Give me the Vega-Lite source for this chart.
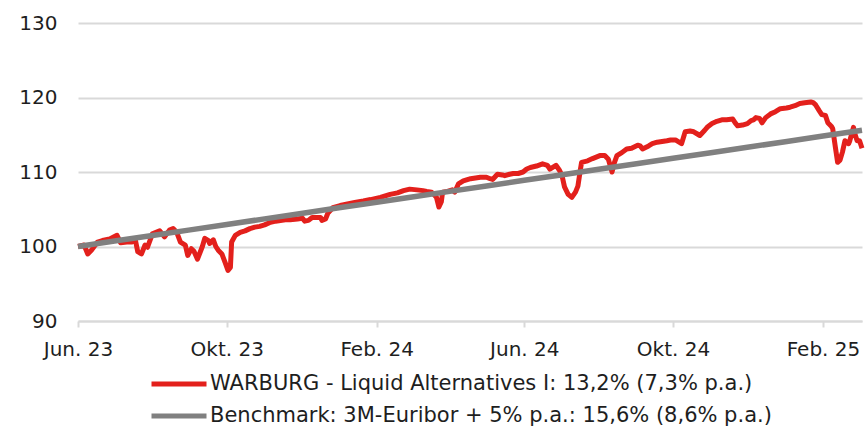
{
  "$schema": "https://vega.github.io/schema/vega-lite/v6.json",
  "width": 784,
  "height": 298,
  "autosize": "none",
  "padding": {"left": 78, "top": 23, "right": 4, "bottom": 108},
  "background": "white",
  "config": {
    "view": {"stroke": null},
    "font": "DejaVu Sans",
    "axis": {"labelFont": "DejaVu Sans", "labelColor": "#1e1e1e", "labelFontSize": 20, "titleFontSize": 0}
  },
  "datasets": {
    "warburg": [
      {"d": "2023-06-01", "v": 100.0}, {"d": "2023-06-06", "v": 100.2}, {"d": "2023-06-09", "v": 99.0}, {"d": "2023-06-12", "v": 99.5},
      {"d": "2023-06-17", "v": 100.6}, {"d": "2023-06-21", "v": 100.8}, {"d": "2023-06-27", "v": 101.0}, {"d": "2023-07-03", "v": 101.5},
      {"d": "2023-07-06", "v": 100.5}, {"d": "2023-07-11", "v": 100.6}, {"d": "2023-07-15", "v": 100.6}, {"d": "2023-07-18", "v": 100.9},
      {"d": "2023-07-20", "v": 99.3}, {"d": "2023-07-23", "v": 99.0}, {"d": "2023-07-26", "v": 100.2}, {"d": "2023-07-28", "v": 99.9},
      {"d": "2023-08-01", "v": 101.7}, {"d": "2023-08-07", "v": 102.1}, {"d": "2023-08-11", "v": 101.3}, {"d": "2023-08-15", "v": 102.2},
      {"d": "2023-08-18", "v": 102.4}, {"d": "2023-08-21", "v": 101.9}, {"d": "2023-08-24", "v": 100.6}, {"d": "2023-08-26", "v": 100.4},
      {"d": "2023-08-28", "v": 100.2}, {"d": "2023-08-30", "v": 98.8}, {"d": "2023-09-02", "v": 99.7}, {"d": "2023-09-04", "v": 99.4},
      {"d": "2023-09-07", "v": 98.3}, {"d": "2023-09-11", "v": 100.0}, {"d": "2023-09-13", "v": 101.1}, {"d": "2023-09-16", "v": 100.8},
      {"d": "2023-09-17", "v": 100.4}, {"d": "2023-09-20", "v": 100.9}, {"d": "2023-09-22", "v": 100.0}, {"d": "2023-09-24", "v": 99.5},
      {"d": "2023-09-27", "v": 99.0}, {"d": "2023-09-30", "v": 97.7}, {"d": "2023-10-02", "v": 96.8}, {"d": "2023-10-04", "v": 97.2},
      {"d": "2023-10-05", "v": 100.6}, {"d": "2023-10-08", "v": 101.5}, {"d": "2023-10-12", "v": 101.9}, {"d": "2023-10-16", "v": 102.1},
      {"d": "2023-10-20", "v": 102.4}, {"d": "2023-10-24", "v": 102.6}, {"d": "2023-10-28", "v": 102.7}, {"d": "2023-11-01", "v": 102.9},
      {"d": "2023-11-05", "v": 103.2}, {"d": "2023-11-10", "v": 103.4}, {"d": "2023-11-14", "v": 103.5}, {"d": "2023-11-18", "v": 103.6},
      {"d": "2023-11-22", "v": 103.6}, {"d": "2023-11-28", "v": 103.7}, {"d": "2023-12-02", "v": 103.8}, {"d": "2023-12-04", "v": 103.4},
      {"d": "2023-12-07", "v": 103.5}, {"d": "2023-12-10", "v": 103.9}, {"d": "2023-12-14", "v": 103.9}, {"d": "2023-12-17", "v": 103.9},
      {"d": "2023-12-18", "v": 103.5}, {"d": "2023-12-21", "v": 103.7}, {"d": "2023-12-23", "v": 104.5}, {"d": "2023-12-27", "v": 105.2},
      {"d": "2024-01-02", "v": 105.5}, {"d": "2024-01-08", "v": 105.7}, {"d": "2024-01-14", "v": 105.9}, {"d": "2024-01-21", "v": 106.1},
      {"d": "2024-01-27", "v": 106.3}, {"d": "2024-02-04", "v": 106.6}, {"d": "2024-02-12", "v": 107.0}, {"d": "2024-02-18", "v": 107.2},
      {"d": "2024-02-23", "v": 107.5}, {"d": "2024-02-28", "v": 107.7}, {"d": "2024-03-05", "v": 107.6}, {"d": "2024-03-10", "v": 107.5},
      {"d": "2024-03-13", "v": 107.4}, {"d": "2024-03-17", "v": 107.3}, {"d": "2024-03-21", "v": 106.6}, {"d": "2024-03-23", "v": 105.3},
      {"d": "2024-03-25", "v": 106.0}, {"d": "2024-03-26", "v": 107.3}, {"d": "2024-03-30", "v": 107.4}, {"d": "2024-04-03", "v": 107.6},
      {"d": "2024-04-05", "v": 107.3}, {"d": "2024-04-08", "v": 108.4}, {"d": "2024-04-12", "v": 108.8}, {"d": "2024-04-18", "v": 109.1},
      {"d": "2024-04-26", "v": 109.3}, {"d": "2024-05-01", "v": 109.3}, {"d": "2024-05-04", "v": 109.1}, {"d": "2024-05-06", "v": 109.0},
      {"d": "2024-05-10", "v": 109.7}, {"d": "2024-05-14", "v": 109.6}, {"d": "2024-05-16", "v": 109.5}, {"d": "2024-05-20", "v": 109.7},
      {"d": "2024-05-23", "v": 109.8}, {"d": "2024-05-27", "v": 109.8}, {"d": "2024-05-31", "v": 110.0}, {"d": "2024-06-03", "v": 110.4},
      {"d": "2024-06-06", "v": 110.6}, {"d": "2024-06-11", "v": 110.8}, {"d": "2024-06-16", "v": 111.1}, {"d": "2024-06-20", "v": 110.9},
      {"d": "2024-06-22", "v": 110.4}, {"d": "2024-06-25", "v": 110.7}, {"d": "2024-06-27", "v": 110.9}, {"d": "2024-06-30", "v": 110.2},
      {"d": "2024-07-02", "v": 109.5}, {"d": "2024-07-04", "v": 108.0}, {"d": "2024-07-07", "v": 107.0}, {"d": "2024-07-10", "v": 106.6},
      {"d": "2024-07-13", "v": 107.3}, {"d": "2024-07-15", "v": 108.1}, {"d": "2024-07-17", "v": 110.3}, {"d": "2024-07-18", "v": 111.3},
      {"d": "2024-07-23", "v": 111.5}, {"d": "2024-07-27", "v": 111.8}, {"d": "2024-08-02", "v": 112.2}, {"d": "2024-08-06", "v": 112.2},
      {"d": "2024-08-09", "v": 111.7}, {"d": "2024-08-12", "v": 110.0}, {"d": "2024-08-14", "v": 111.3}, {"d": "2024-08-16", "v": 112.2},
      {"d": "2024-08-20", "v": 112.6}, {"d": "2024-08-24", "v": 113.1}, {"d": "2024-08-28", "v": 113.2}, {"d": "2024-09-02", "v": 113.6},
      {"d": "2024-09-04", "v": 113.5}, {"d": "2024-09-06", "v": 113.1}, {"d": "2024-09-11", "v": 113.5}, {"d": "2024-09-14", "v": 113.8},
      {"d": "2024-09-18", "v": 114.0}, {"d": "2024-09-22", "v": 114.1}, {"d": "2024-09-26", "v": 114.2}, {"d": "2024-09-29", "v": 114.3},
      {"d": "2024-10-03", "v": 114.3}, {"d": "2024-10-05", "v": 114.1}, {"d": "2024-10-08", "v": 113.8}, {"d": "2024-10-11", "v": 115.4},
      {"d": "2024-10-15", "v": 115.5}, {"d": "2024-10-18", "v": 115.4}, {"d": "2024-10-21", "v": 115.1}, {"d": "2024-10-23", "v": 114.9},
      {"d": "2024-10-27", "v": 115.6}, {"d": "2024-10-29", "v": 116.0}, {"d": "2024-11-02", "v": 116.5}, {"d": "2024-11-06", "v": 116.8},
      {"d": "2024-11-10", "v": 117.0}, {"d": "2024-11-14", "v": 117.0}, {"d": "2024-11-19", "v": 117.1}, {"d": "2024-11-21", "v": 116.6},
      {"d": "2024-11-23", "v": 116.2}, {"d": "2024-11-27", "v": 116.3}, {"d": "2024-12-01", "v": 116.5}, {"d": "2024-12-04", "v": 116.9},
      {"d": "2024-12-06", "v": 117.0}, {"d": "2024-12-08", "v": 117.3}, {"d": "2024-12-11", "v": 117.2}, {"d": "2024-12-13", "v": 116.6},
      {"d": "2024-12-16", "v": 117.3}, {"d": "2024-12-20", "v": 117.8}, {"d": "2024-12-24", "v": 118.1}, {"d": "2024-12-28", "v": 118.5},
      {"d": "2025-01-02", "v": 118.6}, {"d": "2025-01-05", "v": 118.7}, {"d": "2025-01-09", "v": 118.9}, {"d": "2025-01-13", "v": 119.2},
      {"d": "2025-01-17", "v": 119.3}, {"d": "2025-01-22", "v": 119.4}, {"d": "2025-01-24", "v": 119.3}, {"d": "2025-01-26", "v": 119.0},
      {"d": "2025-01-29", "v": 118.2}, {"d": "2025-01-31", "v": 117.7}, {"d": "2025-02-03", "v": 117.6}, {"d": "2025-02-05", "v": 116.6},
      {"d": "2025-02-08", "v": 116.1}, {"d": "2025-02-09", "v": 115.8}, {"d": "2025-02-11", "v": 113.5}, {"d": "2025-02-13", "v": 111.3},
      {"d": "2025-02-15", "v": 111.6}, {"d": "2025-02-17", "v": 112.7}, {"d": "2025-02-19", "v": 114.2}, {"d": "2025-02-22", "v": 113.8},
      {"d": "2025-02-23", "v": 114.2}, {"d": "2025-02-26", "v": 116.0}, {"d": "2025-02-27", "v": 115.2}, {"d": "2025-03-01", "v": 114.2},
      {"d": "2025-03-03", "v": 114.2}, {"d": "2025-03-05", "v": 113.2}
    ],
    "benchmark": [
      {"d": "2023-06-01", "v": 100.00}, {"d": "2023-07-01", "v": 100.73}, {"d": "2023-08-01", "v": 101.48}, {"d": "2023-09-01", "v": 102.23},
      {"d": "2023-10-01", "v": 102.96}, {"d": "2023-11-01", "v": 103.71}, {"d": "2023-12-01", "v": 104.44}, {"d": "2024-01-01", "v": 105.19},
      {"d": "2024-02-01", "v": 105.94}, {"d": "2024-03-01", "v": 106.65}, {"d": "2024-04-01", "v": 107.40}, {"d": "2024-05-01", "v": 108.13},
      {"d": "2024-06-01", "v": 108.88}, {"d": "2024-07-01", "v": 109.61}, {"d": "2024-08-01", "v": 110.36}, {"d": "2024-09-01", "v": 111.11},
      {"d": "2024-10-01", "v": 111.84}, {"d": "2024-11-01", "v": 112.59}, {"d": "2024-12-01", "v": 113.32}, {"d": "2025-01-01", "v": 114.07},
      {"d": "2025-02-01", "v": 114.82}, {"d": "2025-03-01", "v": 115.50}, {"d": "2025-03-05", "v": 115.60}
    ]
  },
  "encoding": {
    "x": {
      "field": "d",
      "type": "temporal",
      "scale": {
        "type": "utc",
        "domain": [{"year": 2023, "month": 6, "date": 1, "utc": true}, {"year": 2025, "month": 3, "date": 5, "utc": true}],
        "nice": false
      },
      "axis": {
        "title": null,
        "values": [
          {"year": 2023, "month": 6, "date": 1, "utc": true},
          {"year": 2023, "month": 10, "date": 1, "utc": true},
          {"year": 2024, "month": 2, "date": 1, "utc": true},
          {"year": 2024, "month": 6, "date": 1, "utc": true},
          {"year": 2024, "month": 10, "date": 1, "utc": true},
          {"year": 2025, "month": 2, "date": 1, "utc": true}
        ],
        "labelExpr": "['Jan','Feb','Mär','Apr','Mai','Jun','Jul','Aug','Sep','Okt','Nov','Dez'][utcmonth(datum.value)] + '. ' + utcFormat(datum.value, '%y')",
        "grid": false,
        "domain": true,
        "domainColor": "#d9d9d9",
        "domainWidth": 2,
        "ticks": true,
        "tickColor": "#d9d9d9",
        "tickWidth": 2,
        "tickSize": 6,
        "labelPadding": 12,
        "labelOverlap": false,
        "labelBound": false,
        "labelFlush": false
      }
    },
    "y": {
      "field": "v",
      "type": "quantitative",
      "scale": {"domain": [90, 130], "zero": false, "nice": false},
      "axis": {
        "title": null,
        "values": [90, 100, 110, 120, 130],
        "grid": true,
        "gridColor": "#d9d9d9",
        "gridWidth": 2,
        "domain": false,
        "ticks": false,
        "labelPadding": 21
      }
    }
  },
  "layer": [
    {
      "data": {"name": "warburg"},
      "mark": {"type": "line", "strokeWidth": 5, "strokeJoin": "round"},
      "encoding": {
        "color": {
          "datum": "WARBURG - Liquid Alternatives I: 13,2% (7,3% p.a.)",
          "type": "nominal",
          "scale": {
            "domain": ["WARBURG - Liquid Alternatives I: 13,2% (7,3% p.a.)", "Benchmark: 3M-Euribor + 5% p.a.: 15,6% (8,6% p.a.)"],
            "range": ["#e3201c", "#808080"]
          },
          "legend": {
            "title": null,
            "orient": "none",
            "legendX": 71,
            "legendY": 345,
            "direction": "vertical",
            "symbolType": "stroke",
            "symbolSize": 3025,
            "symbolStrokeWidth": 5,
            "clipHeight": 32,
            "rowPadding": 0,
            "labelOffset": 1,
            "labelFont": "DejaVu Sans",
            "labelFontSize": 21,
            "labelColor": "#1e1e1e",
            "labelLimit": 700
          }
        }
      }
    },
    {
      "data": {"name": "benchmark"},
      "mark": {"type": "line", "strokeWidth": 5.5},
      "encoding": {
        "color": {"datum": "Benchmark: 3M-Euribor + 5% p.a.: 15,6% (8,6% p.a.)", "type": "nominal"}
      }
    }
  ]
}
